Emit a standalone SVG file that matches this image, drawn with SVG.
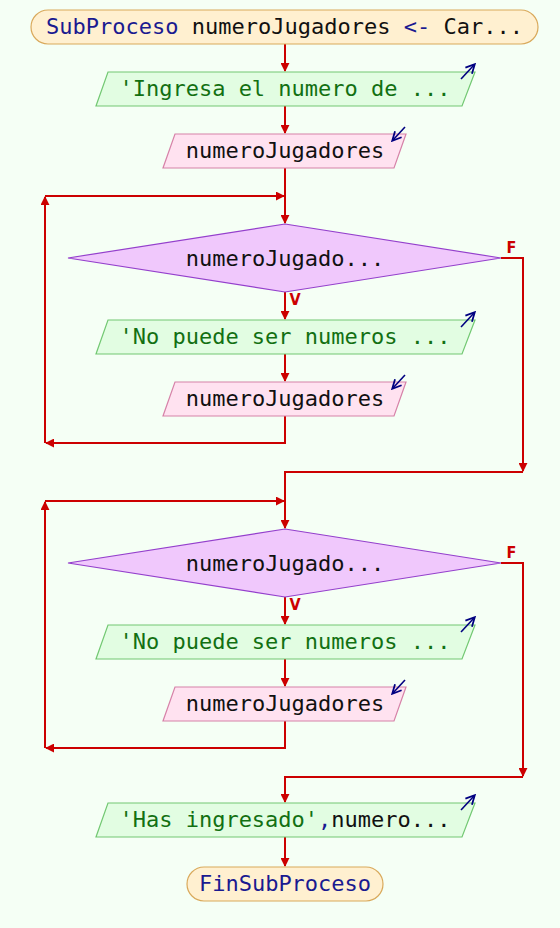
<svg xmlns="http://www.w3.org/2000/svg" width="560" height="928" viewBox="0 0 560 928">
<defs>
<marker id="ah" viewBox="0 0 10 10" refX="9" refY="5" markerWidth="4.5" markerHeight="4.5" orient="auto" markerUnits="strokeWidth"><path d="M0,0 L10,5 L0,10 z" fill="#cc0000"/></marker>
<marker id="ic" viewBox="0 0 10 10" refX="8" refY="5" markerWidth="7" markerHeight="7" orient="auto" markerUnits="strokeWidth"><path d="M1,1 L9,5 L1,9" fill="none" stroke="#000080" stroke-width="1.6"/></marker>
<style>
text{font-family:"DejaVu Sans Mono",monospace;font-size:22px;text-anchor:middle}
.term{fill:#fff0d0;stroke:#d9a95b;stroke-width:1.2}
.out{fill:#e2fde2;stroke:#72c872;stroke-width:1.2}
.inp{fill:#ffe2f0;stroke:#d682a8;stroke-width:1.2}
.dec{fill:#f0c8fc;stroke:#9440cc;stroke-width:1.2}
.kw{fill:#1a1a90}
.str{fill:#127012}
.blk{fill:#111}
.icon{stroke:#000080;stroke-width:1.6;fill:none;marker-end:url(#ic)}
.c{fill:none;stroke:#cc0000;stroke-width:2}
.a{marker-end:url(#ah)}
.lbl{fill:#cc0000;font-family:"DejaVu Sans Condensed","DejaVu Sans",sans-serif;font-stretch:condensed;font-size:16px;font-weight:bold}
</style>
</defs>
<rect width="560" height="928" fill="#f5fff5"/>
<g id="connectors">
<path class="c a" d="M285,44 V71"/>
<path class="c a" d="M285,106 V133"/>
<path class="c a" d="M285,168 V223"/>
<path class="c a" d="M285,416 V443 H46"/>
<path class="c a" d="M45,443 V197"/>
<path class="c a" d="M45,196 H284"/>
<path class="c a" d="M285,292 V319"/>
<path class="c a" d="M285,354 V381"/>
<path class="c a" d="M501,258 H523 V471"/>
<path class="c a" d="M523,472 H285 V528"/>
<path class="c a" d="M285,597 V624"/>
<path class="c a" d="M285,659 V686"/>
<path class="c a" d="M285,721 V748 H46"/>
<path class="c a" d="M45,748 V502"/>
<path class="c a" d="M45,501 H284"/>
<path class="c a" d="M501,563 H523 V776"/>
<path class="c a" d="M523,777 H285 V802"/>
<path class="c a" d="M285,837 V866"/>
<text class="lbl" x="511.5" y="253">F</text>
<text class="lbl" x="295" y="305">V</text>
<text class="lbl" x="511.5" y="558">F</text>
<text class="lbl" x="295" y="610">V</text>
</g>
<g id="start">
<rect class="term" x="31" y="10" width="507" height="34" rx="17"/>
<text x="284.5" y="34"><tspan class="kw">SubProceso</tspan><tspan class="blk"> numeroJugadores </tspan><tspan class="kw">&lt;-</tspan><tspan class="blk"> Car...</tspan></text>
</g>
<g id="out1">
<polygon class="out" points="108,72 475,72 462,106 96,106"/>
<text class="str" x="285" y="96">'Ingresa el numero de ...</text>
<path class="icon" d="M461,79 L474,65"/>
</g>
<g id="in1">
<polygon class="inp" points="175,134 406,134 394,168 163,168"/>
<text class="blk" x="285" y="158">numeroJugadores</text>
<path class="icon" d="M405,127 L393,140"/>
</g>
<g id="dec1">
<polygon class="dec" points="285,224 501,258 285,292 68,258"/>
<text class="blk" x="285" y="266">numeroJugado...</text>
</g>
<g id="out2">
<polygon class="out" points="108,320 475,320 462,354 96,354"/>
<text class="str" x="285" y="344">'No puede ser numeros ...</text>
<path class="icon" d="M461,327 L474,313"/>
</g>
<g id="in2">
<polygon class="inp" points="175,382 406,382 394,416 163,416"/>
<text class="blk" x="285" y="406">numeroJugadores</text>
<path class="icon" d="M405,375 L393,388"/>
</g>
<g id="dec2">
<polygon class="dec" points="285,529 501,563 285,597 68,563"/>
<text class="blk" x="285" y="571">numeroJugado...</text>
</g>
<g id="out3">
<polygon class="out" points="108,625 475,625 462,659 96,659"/>
<text class="str" x="285" y="649">'No puede ser numeros ...</text>
<path class="icon" d="M461,632 L474,618"/>
</g>
<g id="in3">
<polygon class="inp" points="175,687 406,687 394,721 163,721"/>
<text class="blk" x="285" y="711">numeroJugadores</text>
<path class="icon" d="M405,680 L393,693"/>
</g>
<g id="out4">
<polygon class="out" points="108,803 475,803 462,837 96,837"/>
<text x="285" y="827"><tspan class="str">'Has ingresado'</tspan><tspan class="kw">,</tspan><tspan class="blk">numero...</tspan></text>
<path class="icon" d="M461,810 L474,796"/>
</g>
<g id="end">
<rect class="term" x="187" y="867" width="196" height="34" rx="17"/>
<text class="kw" x="285" y="891">FinSubProceso</text>
</g>
</svg>
